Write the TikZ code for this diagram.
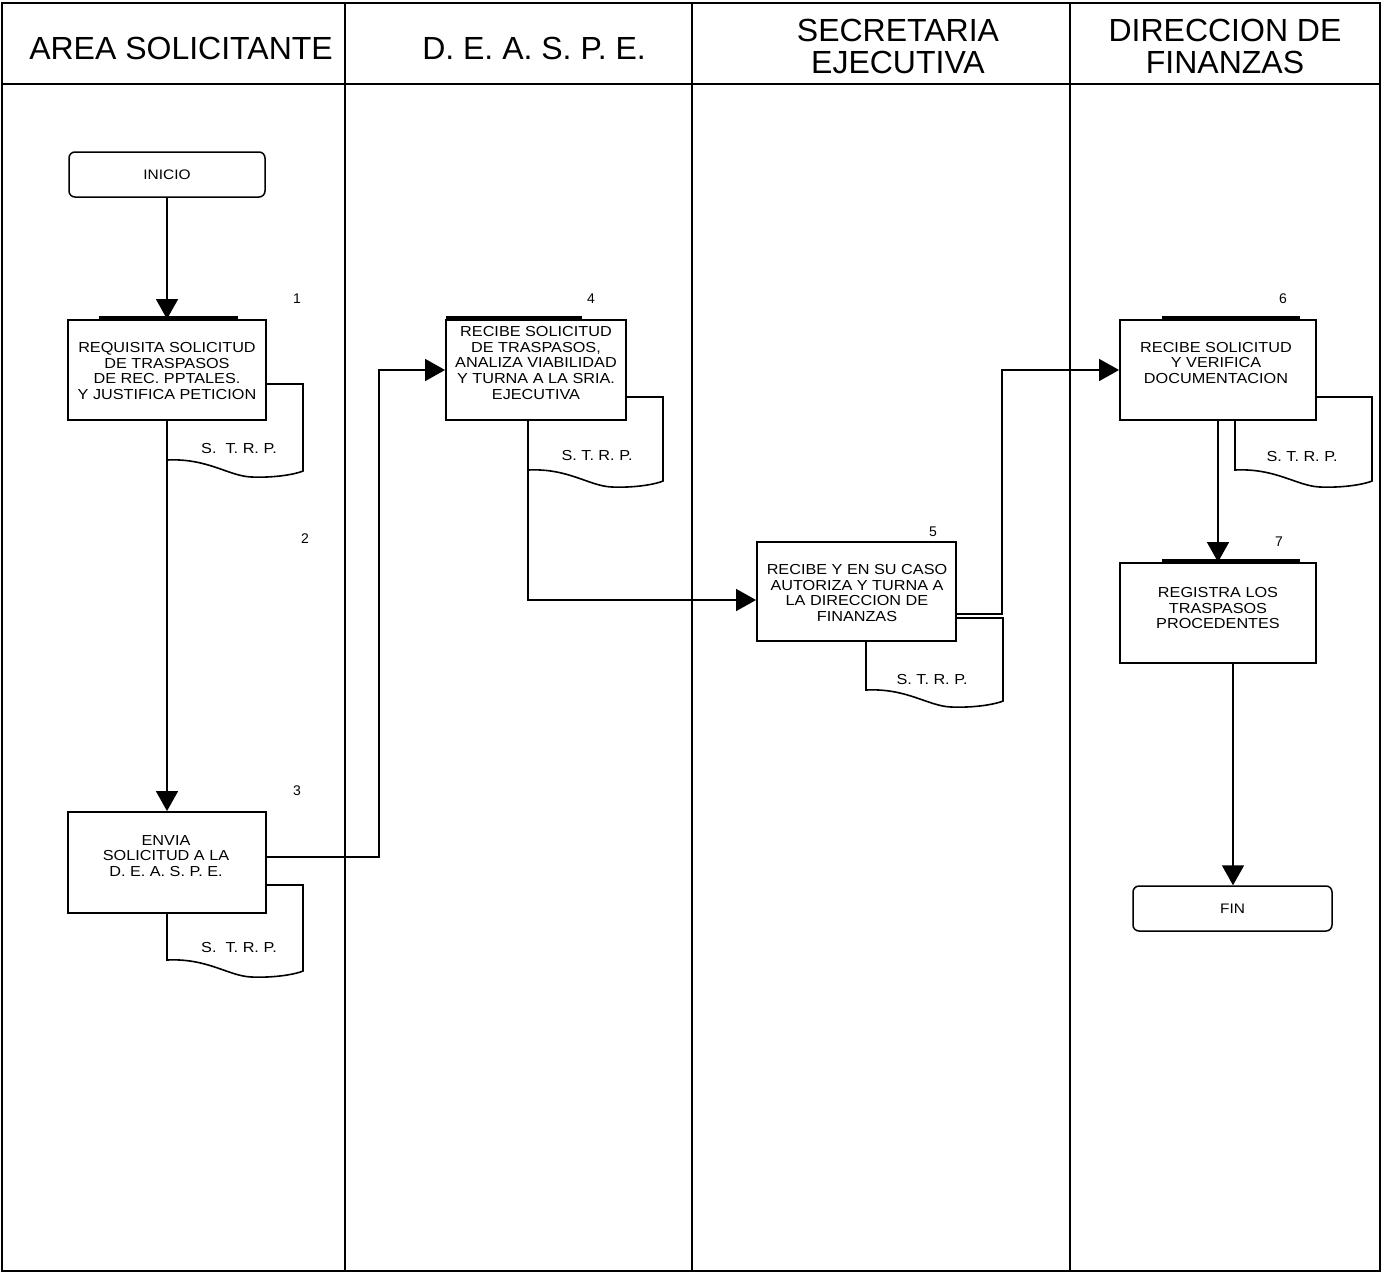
\documentclass[tikz,border=0pt]{standalone}
\usepackage{fontspec}
\setmainfont{Liberation Sans}
\newfontfamily\boxfont[FakeStretch=1.12]{Liberation Sans}
\usetikzlibrary{arrows.meta,calc}
\newcommand\strpdoc[6]{% L R top yb boxright boxbottom
  \draw[docline] (#5,#3) -- (#2,#3) -- (#2,{#4+11})
    .. controls ({#1+0.95*(#2-#1)},{#4+14}) and ({#1+0.8*(#2-#1)},{#4+18}) .. ({#1+0.62*(#2-#1)},{#4+17})
    .. controls ({#1+0.45*(#2-#1)},{#4+16}) and ({#1+0.3*(#2-#1)},{#4-2}) .. (#1,#4) -- (#1,#6);}
\begin{document}
\begin{tikzpicture}[x=1pt,y=-1pt,
  box/.style={draw,line width=1.9pt,inner sep=0pt},
  term/.style={draw,line width=1.5pt,rounded corners=6pt,inner sep=0pt,font=\boxfont\fontsize{13.8}{16}\selectfont},
  txt/.style={align=center,font=\boxfont\fontsize{14.5}{15.6}\selectfont,inner sep=0pt},
  num/.style={font=\fontsize{14}{16}\selectfont,inner sep=0pt},
  head/.style={align=center,font=\fontsize{32}{32}\selectfont,inner sep=0pt},
  flow/.style={line width=1.6pt,-{Triangle[length=20pt,width=22pt]}},
  docline/.style={line width=1.6pt},
  topbar/.style={line width=3.5pt},
  frame/.style={line width=2pt}]
\useasboundingbox (0,0) rectangle (1382,1275);
% frame and lanes
\draw[frame] (2,3) rectangle (1380,1271);
\draw[frame] (2,84) -- (1380,84);
\draw[frame] (345,3) -- (345,1271);
\draw[frame] (692,3) -- (692,1271);
\draw[frame] (1070,3) -- (1070,1271);
\node[head] (h1) at (181,48) {AREA SOLICITANTE};
\node[head] (h2) at (534,48) {D. E. A. S. P. E.};
\node[head] (h3) at (898,46) {SECRETARIA\\EJECUTIVA};
\node[head] (h4) at (1225,46) {DIRECCION DE\\FINANZAS};
% terminals
\node[term,minimum width=196pt,minimum height=45pt] (inicio) at (167,174.5) {INICIO};
\node[term,minimum width=199pt,minimum height=45pt] (fin) at (1232.5,908.5) {FIN};
% documents
\strpdoc{167}{303}{384}{460}{266}{420}
\strpdoc{167}{303}{885}{960}{266}{913}
\strpdoc{528}{663}{397}{470}{626}{420}
\strpdoc{866}{1003}{618}{690}{956}{641}
\strpdoc{1235}{1372}{397}{470}{1316}{420}
\node[txt] (d1) at (239,449) {S.\ \ T. R. P.};
\node[txt] (d3) at (239,947) {S.\ \ T. R. P.};
\node[txt] (d4) at (597,456) {S. T. R. P.};
\node[txt] (d5) at (932,679) {S. T. R. P.};
\node[txt] (d6) at (1302,457) {S. T. R. P.};
% boxes
\node[box,minimum width=198pt,minimum height=100pt] (b1) at (167,370) {};
\node[box,minimum width=198pt,minimum height=101pt] (b3) at (167,862.5) {};
\node[box,minimum width=180pt,minimum height=100pt] (b4) at (536,370) {};
\node[box,minimum width=199pt,minimum height=99pt] (b5) at (856.5,591.5) {};
\node[box,minimum width=196pt,minimum height=100pt] (b6) at (1218,370) {};
\node[box,minimum width=196pt,minimum height=100pt] (b7) at (1218,613) {};
\draw[topbar] (99,318) -- (238,318);
\draw[topbar] (446,318) -- (582,318);
\draw[topbar] (1162,318) -- (1300,318);
\draw[topbar] (1162,561) -- (1300,561);
\node[txt] (t1) at (167,371) {REQUISITA SOLICITUD\\DE TRASPASOS\\DE REC. PPTALES.\\Y JUSTIFICA PETICION};
\node[txt] (t3) at (166,856) {ENVIA\\SOLICITUD A LA\\D. E. A. S. P. E.};
\node[txt] (t4) at (536,363) {RECIBE SOLICITUD\\DE TRASPASOS,\\ANALIZA VIABILIDAD\\Y TURNA A LA SRIA.\\EJECUTIVA};
\node[txt] (t5) at (857,593) {RECIBE Y EN SU CASO\\AUTORIZA Y TURNA A\\LA DIRECCION DE\\FINANZAS};
\node[txt] (t6) at (1216,363) {RECIBE SOLICITUD\\Y VERIFICA\\DOCUMENTACION};
\node[txt] (t7) at (1218,608) {REGISTRA LOS\\TRASPASOS\\PROCEDENTES};
% numbers
\node[num] (n1) at (297,299) {1};
\node[num] (n2) at (305,539) {2};
\node[num] (n3) at (297,791) {3};
\node[num] (n4) at (591,299) {4};
\node[num] (n5) at (933,532) {5};
\node[num] (n6) at (1283,299) {6};
\node[num] (n7) at (1279,542) {7};
% connectors
\draw[flow] (inicio.south) -- (b1.north);
\draw[flow] (b1.south) -- (b3.north);
\draw[flow] ([yshift=5.5pt]b3.east) -| ($(b4.west)+(-66,0)$) -- (b4.west);
\draw[flow] ([xshift=-8pt]b4.south) |- ([yshift=-8.5pt]b5.west);
\draw[flow] ([yshift=-22.5pt]b5.east) -| ($(b6.west)+(-117,0)$) -- (b6.west);
\draw[flow] (b6.south) -- (b7.north);
\draw[flow] ([xshift=15pt]b7.south) -- ([xshift=15pt]b7.south |- fin.north);
\end{tikzpicture}
\end{document}
